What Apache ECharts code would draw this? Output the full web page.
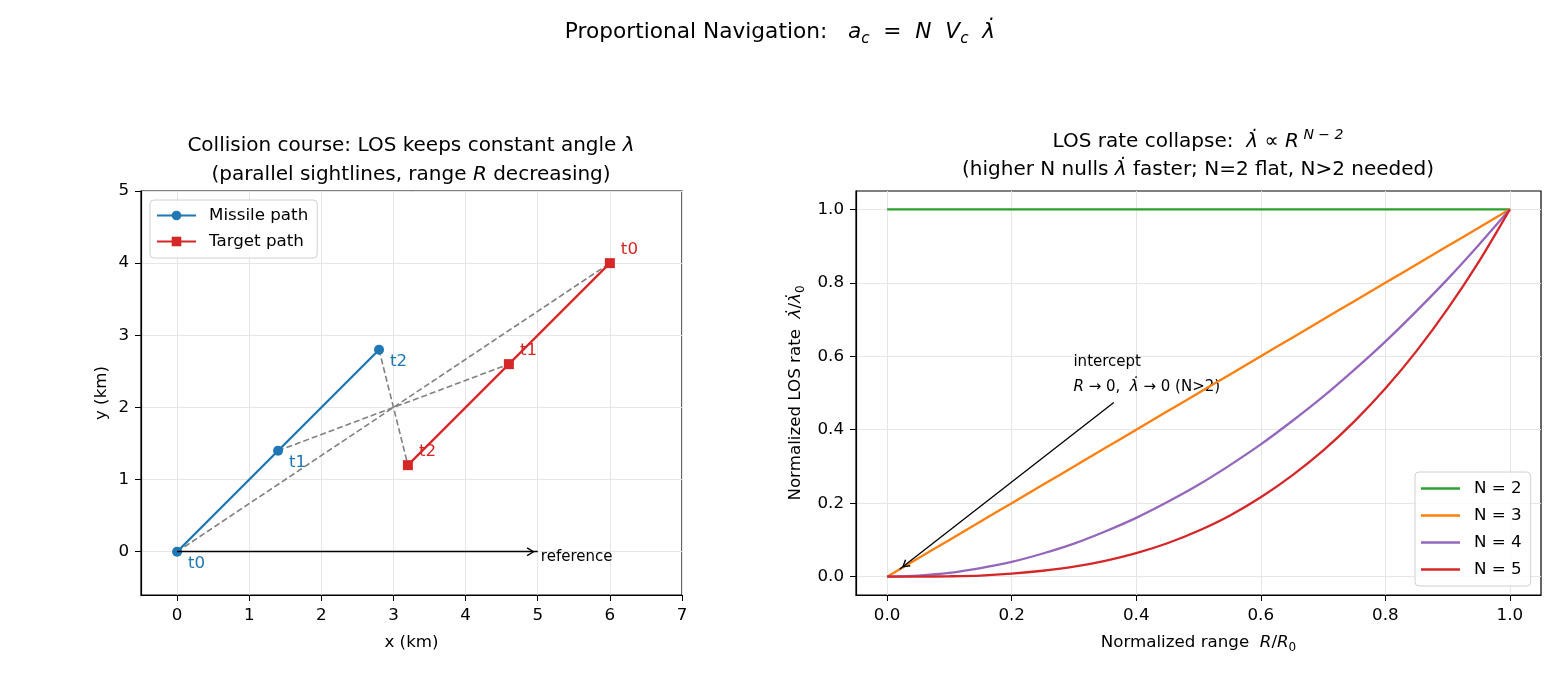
<!DOCTYPE html>
<html>
<head>
<meta charset="utf-8">
<script src="https://cdn.jsdelivr.net/npm/echarts@6/dist/echarts.min.js"></script>
<style>
  html, body { margin: 0; background: #fff; }
  #main { width: 1560px; height: 676px; }
</style>
</head>
<body>
<div id="main"></div>
<script>
// left panel: positions at t0, t1, t2 (km)
const missileX = [0, 1.4, 2.8];
const missileY = [0, 1.4, 2.8];
const targetX = [6, 4.6, 3.2];
const targetY = [4, 2.6, 1.2];
const timeLabels = ["t0", "t1", "t2"];
const refArrowFrom = [0, 0];
const refArrowTo = [5, 0];
const refTextAt = [5.05, -0.08];
const leftXTicks = [0, 1, 2, 3, 4, 5, 6, 7];
const leftYTicks = [0, 1, 2, 3, 4, 5];

// right panel: normalized LOS rate vs normalized range
const rangeR = [0, 0.05, 0.1, 0.15, 0.2, 0.25, 0.3, 0.35, 0.4, 0.45, 0.5,
  0.55, 0.6, 0.65, 0.7, 0.75, 0.8, 0.85, 0.9, 0.95, 1];
const rateN2 = [1, 1, 1, 1, 1, 1, 1, 1, 1, 1, 1, 1, 1, 1, 1, 1, 1, 1, 1, 1, 1];
const rateN3 = [0, 0.05, 0.1, 0.15, 0.2, 0.25, 0.3, 0.35, 0.4, 0.45, 0.5,
  0.55, 0.6, 0.65, 0.7, 0.75, 0.8, 0.85, 0.9, 0.95, 1];
const rateN4 = [0, 0.003, 0.01, 0.023, 0.04, 0.063, 0.09, 0.123, 0.16, 0.203, 0.25,
  0.303, 0.36, 0.423, 0.49, 0.563, 0.64, 0.723, 0.81, 0.903, 1];
const rateN5 = [0, 0.0001, 0.001, 0.003, 0.008, 0.016, 0.027, 0.043, 0.064, 0.091, 0.125,
  0.166, 0.216, 0.275, 0.343, 0.422, 0.512, 0.614, 0.729, 0.857, 1];
const nNames = ["N = 2", "N = 3", "N = 4", "N = 5"];
const rightTicks = [0, 0.2, 0.4, 0.6, 0.8, 1.0];
const interceptTextAt = [0.3, 0.5];
const interceptArrowFrom = [0.364, 0.474];
const interceptArrowTo = [0.02, 0.02];

const FONT = "DejaVu Sans";
const TICK = 16.7;
const BLUE = "#1f77b4", RED = "#d62728";
const CHEVRON = "path://M5,0 L10,9 L8.6,10 L5,3 L1.4,10 L0,9 Z";

function zip(xs, ys) {
  return xs.map((x, i) => [x, ys[i]]);
}

const mathRich = {
  i: { fontFamily: FONT, fontStyle: "italic", fontWeight: "normal" },
  sub: { fontFamily: FONT, fontSize: 12, verticalAlign: "bottom", lineHeight: 12 }
};

function valueAxis(grid, min, max, ticks, fmt, name, gap) {
  return {
    type: "value",
    gridIndex: grid,
    min: min,
    max: max,
    name: name,
    nameLocation: "middle",
    nameGap: gap,
    nameTextStyle: { fontFamily: FONT, fontSize: TICK, color: "#000", lineHeight: 22, rich: mathRich },
    axisLine: { show: true, onZero: false, lineStyle: { color: "#000", width: 1.2 } },
    axisTick: { show: true, length: 6, customValues: ticks, lineStyle: { color: "#000" } },
    axisLabel: { customValues: ticks, margin: 12, fontFamily: FONT, fontSize: TICK, color: "#000", formatter: fmt },
    splitLine: { show: true, lineStyle: { color: "#e6e6e6", width: 1 } }
  };
}

function titleRich(size, lh) {
  return {
    n: { fontFamily: FONT, fontSize: size, fontWeight: "normal", color: "#000", lineHeight: lh },
    i: { fontFamily: FONT, fontSize: size, fontWeight: "normal", color: "#000", fontStyle: "italic", lineHeight: lh },
    sub: { fontFamily: FONT, fontSize: size * 0.7, fontWeight: "normal", color: "#000", fontStyle: "italic", verticalAlign: "bottom", lineHeight: size * 0.9 },
    sup: { fontFamily: FONT, fontSize: size * 0.7, fontWeight: "normal", color: "#000", fontStyle: "italic", verticalAlign: "top", lineHeight: size * 0.8 }
  };
}

function arrowMarkLine(from, to) {
  return {
    silent: true,
    symbol: ["none", CHEVRON],
    symbolSize: [9, 8],
    symbolOffset: [[0, 0], [0, 7]],
    label: { show: false },
    lineStyle: { color: "#000", width: 1.3, type: "solid" },
    data: [[{ coord: from }, { coord: to }]]
  };
}

let chart = echarts.init(document.getElementById("main"));

let losSeries = missileX.map((x, i) => ({
  name: "LOS " + timeLabels[i],
  type: "line",
  xAxisIndex: 0,
  yAxisIndex: 0,
  symbol: "none",
  silent: true,
  z: 1,
  lineStyle: { color: "#808080", width: 1.6, type: [6, 3] },
  data: [[x, missileY[i]], [targetX[i], targetY[i]]]
}));

let curveColors = ["#2ca02c", "#ff7f0e", "#9467bd", "#d62728"];
let curveData = [rateN2, rateN3, rateN4, rateN5];
let curveSeries = nNames.map((n, k) => ({
  name: n,
  type: "line",
  xAxisIndex: 1,
  yAxisIndex: 1,
  symbol: "none",
  showSymbol: false,
  smooth: 0.3,
  color: curveColors[k],
  lineStyle: { width: 2.3, color: curveColors[k] },
  z: 3,
  data: zip(rangeR, curveData[k])
}));

let option = {
  animation: false,
  backgroundColor: "#fff",
  title: [
    {
      text: "{n|Proportional Navigation:   }{i|a}{sub|c}{n|  =  }{i|N  V}{sub|c}{n|  }{i|λ̇}",
      left: 780,
      top: 17,
      textAlign: "center",
      padding: 0,
      textStyle: { fontWeight: "normal", rich: titleRich(21.7, 30) }
    },
    {
      text: "{n|Collision course: LOS keeps constant angle }{i|λ}\n{n|(parallel sightlines, range }{i|R}{n| decreasing)}",
      left: 411,
      top: 131,
      textAlign: "center",
      padding: 0,
      textStyle: { fontWeight: "normal", rich: titleRich(20, 29) }
    },
    {
      text: "{n|LOS rate collapse:  }{i|λ̇}{n| ∝ }{i|R}{sup| N − 2}\n{n|(higher N nulls }{i|λ̇}{n| faster; N=2 flat, N>2 needed)}",
      left: 1198,
      top: 128,
      textAlign: "center",
      padding: 0,
      textStyle: { fontWeight: "normal", rich: titleRich(20, 28) }
    }
  ],
  grid: [
    { left: 141, top: 191, width: 541, height: 404, show: true, borderColor: "#000", borderWidth: 1.2 },
    { left: 856, top: 191, width: 685, height: 404, show: true, borderColor: "#000", borderWidth: 1.2 }
  ],
  xAxis: [
    valueAxis(0, -0.5, 7, leftXTicks, v => String(v), "x (km)", 37),
    valueAxis(1, -0.05, 1.05, rightTicks, v => v.toFixed(1), "Normalized range  {i|R}/{i|R}{sub|0}", 37)
  ],
  yAxis: [
    valueAxis(0, -0.6, 5, leftYTicks, v => String(v), "y (km)", 28),
    valueAxis(1, -0.05, 1.05, rightTicks, v => v.toFixed(1), "Normalized LOS rate  {i|λ̇}/{i|λ̇}{sub|0}", 49)
  ],
  legend: [
    {
      data: ["Missile path", "Target path"],
      orient: "vertical",
      left: 150,
      top: 200,
      padding: [7, 9, 8, 6],
      itemGap: 9,
      itemWidth: 39,
      itemHeight: 12,
      backgroundColor: "rgba(255,255,255,0.8)",
      borderColor: "#d0d0d0",
      borderWidth: 1,
      borderRadius: 4,
      selectedMode: false,
      textStyle: { fontFamily: FONT, fontSize: TICK, color: "#000", padding: [0, 0, 0, 8] }
    },
    {
      data: nNames,
      orient: "vertical",
      left: 1415,
      top: 472,
      padding: [8, 9, 8, 6],
      itemGap: 10,
      itemWidth: 39,
      itemHeight: 2.5,
      icon: "rect",
      backgroundColor: "rgba(255,255,255,0.8)",
      borderColor: "#d0d0d0",
      borderWidth: 1,
      borderRadius: 4,
      selectedMode: false,
      textStyle: { fontFamily: FONT, fontSize: TICK, color: "#000", padding: [0, 0, 0, 9] }
    }
  ],
  series: [
    ...losSeries,
    {
      name: "Missile path",
      type: "line",
      xAxisIndex: 0,
      yAxisIndex: 0,
      symbol: "circle",
      symbolSize: 10,
      color: BLUE,
      z: 4,
      lineStyle: { width: 2.3, color: BLUE },
      itemStyle: { color: BLUE },
      label: {
        show: true,
        position: "right",
        distance: 6,
        offset: [0, 11.5],
        color: BLUE,
        fontFamily: FONT,
        fontSize: TICK,
        formatter: p => timeLabels[p.dataIndex]
      },
      data: zip(missileX, missileY)
    },
    {
      name: "Target path",
      type: "line",
      xAxisIndex: 0,
      yAxisIndex: 0,
      symbol: "rect",
      symbolSize: 10,
      color: RED,
      z: 4,
      lineStyle: { width: 2.3, color: RED },
      itemStyle: { color: RED },
      label: {
        show: true,
        position: "right",
        distance: 6,
        offset: [0, -13],
        color: RED,
        fontFamily: FONT,
        fontSize: TICK,
        formatter: p => timeLabels[p.dataIndex]
      },
      data: zip(targetX, targetY)
    },
    {
      name: "reference",
      type: "scatter",
      xAxisIndex: 0,
      yAxisIndex: 0,
      symbolSize: 1,
      silent: true,
      itemStyle: { color: "rgba(0,0,0,0)", opacity: 1 },
      label: {
        show: true,
        position: [0, 0],
        align: "left",
        verticalAlign: "middle",
        color: "#000",
        fontFamily: FONT,
        fontSize: 15,
        formatter: "reference"
      },
      markLine: arrowMarkLine(refArrowFrom, refArrowTo),
      data: [refTextAt]
    },
    ...curveSeries,
    {
      name: "intercept",
      type: "scatter",
      xAxisIndex: 1,
      yAxisIndex: 1,
      symbolSize: 1,
      silent: true,
      itemStyle: { color: "rgba(0,0,0,0)", opacity: 1 },
      label: {
        show: true,
        position: [0, 0],
        offset: [0, 7],
        align: "left",
        verticalAlign: "bottom",
        color: "#000",
        fontFamily: FONT,
        fontSize: 15,
        lineHeight: 25,
        formatter: "intercept\n{i|R} → 0,  {i|λ̇} → 0 (N>2)",
        rich: { i: { fontFamily: FONT, fontSize: 15, fontStyle: "italic", lineHeight: 25, color: "#000" } }
      },
      markLine: arrowMarkLine(interceptArrowFrom, interceptArrowTo),
      data: [interceptTextAt]
    }
  ]
};
chart.setOption(option);
</script>
</body>
</html>
